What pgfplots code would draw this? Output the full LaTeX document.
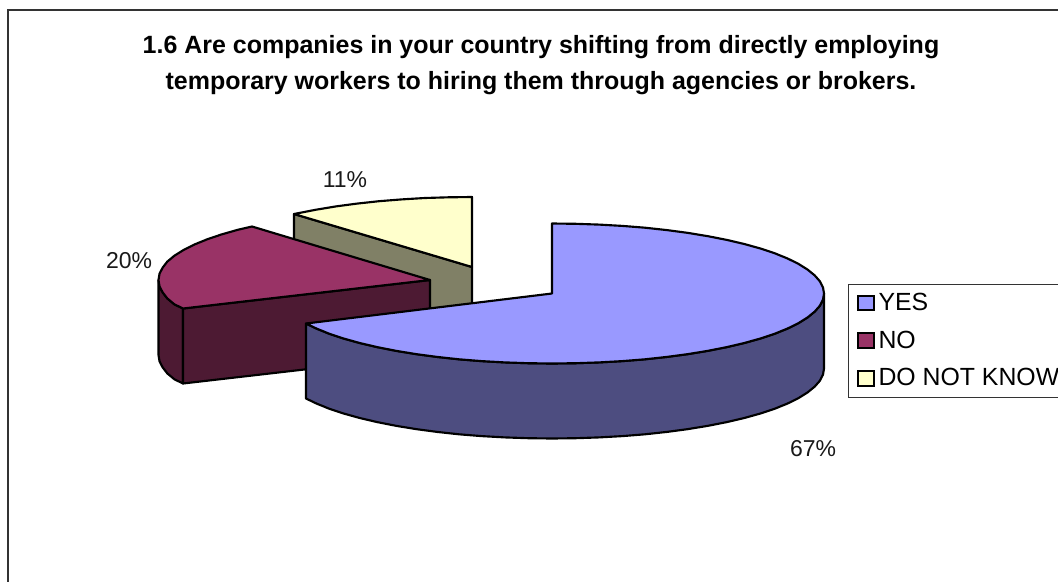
\documentclass[border=0pt]{standalone}
\usepackage{pgfplots}
\pgfplotsset{compat=1.18}
\usepackage{fontspec}
\setmainfont{Liberation Sans}
\definecolor{yesTop}{HTML}{9999FF}
\definecolor{yesSide}{HTML}{4D4D80}
\definecolor{noTop}{HTML}{993366}
\definecolor{noSide}{HTML}{4D1A33}
\definecolor{dnkTop}{HTML}{FFFFCC}
\definecolor{dnkSide}{HTML}{808066}
\definecolor{frameGray}{HTML}{333333}
\pgfplotsset{
  wedge/.style={draw=black, line width=1.6bp, line join=round, forget plot},
  swatch/.style={legend image code/.code={
    \draw[draw=black, line width=1.5bp, fill=#1] (-1.5bp,-5.6bp) rectangle (10bp,5.6bp);}},
}
\begin{document}
\begin{tikzpicture}
\begin{axis}[
  at={(0,0)}, anchor=south west,
  scale only axis, width=793.5bp, height=436.5bp,
  xmin=0, xmax=1058, ymin=0, ymax=582, y dir=reverse,
  hide axis, clip=false,
  legend cell align=left,
  legend style={
    at={(axis cs:848,283.5)}, anchor=north west,
    draw=frameGray, line width=0.75bp,
    font=\fontsize{18.7}{20}\selectfont,
    inner xsep=6.5bp, inner ysep=7bp,
    nodes={inner xsep=3bp, inner ysep=0bp},
    row sep=13.7bp,
  },
]
% Chart area border, open towards the right and bottom edges
\draw[frameGray, line width=1.5bp] (axis cs:8,582) -- (axis cs:8,10) -- (axis cs:1058,10);

% DO NOT KNOW wedge
\addplot[wedge, fill=dnkSide] coordinates {(294,214) (472,267) (472,342) (294,289)} -- cycle;
\addplot[wedge, fill=dnkTop] coordinates {
  (294,214) (316,209.7) (336,206.4) (357,203.6) (379,201.2) (401.6,199.4) (424.8,198)
  (448.3,197.3) (472,197) (472,267)} -- cycle;

% NO wedge
\addplot[wedge, fill=noSide] coordinates {
  (183,308.5) (174.4,304.3) (167.3,298.4) (162.6,292.3) (159.5,286.2) (158.5,280)
  (158.5,355) (159.5,361.2) (162.6,367.3) (167.3,373.4) (174.4,379.3) (183,383.5)} -- cycle;
\addplot[wedge, fill=noSide] coordinates {(183,308.5) (430,280) (430,355) (183,383.5)} -- cycle;
\addplot[wedge, fill=noTop] coordinates {
  (183,308.5) (174.4,304.3) (167.3,298.4) (162.6,292.3) (159.5,286.2) (158.5,280)
  (159.5,273.8) (162.6,267.7) (167.3,261.6) (174.4,255.7) (183.5,250) (194.4,244.5)
  (207.2,239.3) (221.6,234.4) (237.7,229.8) (252,226.5) (430,280)} -- cycle;

% YES wedge
\addplot[wedge, fill=yesSide] coordinates {
  (824,293.5) (823,299.6) (819.9,305.7) (814.7,311.6) (807.6,317.4) (798.5,323.1)
  (787.6,328.5) (774.8,333.7) (760.4,338.5) (744.3,343) (726.8,347.1) (708,350.8)
  (688,354.1) (667,356.9) (645,359.3) (622.4,361.1) (599.2,362.4) (575.7,363.2)
  (552,363.5) (528.3,363.2) (504.8,362.4) (481.6,361.1) (459,359.3) (437,356.9)
  (416,354.1) (396,350.8) (377.2,347.1) (359.7,343) (343.6,338.5) (329.2,333.7)
  (316.4,328.5) (306,323.5)
  (306,398.5) (316.4,403.5) (329.2,408.7) (343.6,413.5) (359.7,418) (377.2,422.1)
  (396,425.8) (416,429.1) (437,431.9) (459,434.3) (481.6,436.1) (504.8,437.4)
  (528.3,438.2) (552,438.5) (575.7,438.2) (599.2,437.4) (622.4,436.1) (645,434.3)
  (667,431.9) (688,429.1) (708,425.8) (726.8,422.1) (744.3,418) (760.4,413.5)
  (774.8,408.7) (787.6,403.5) (798.5,398.1) (807.6,392.4) (814.7,386.6) (819.9,380.7)
  (823,374.6) (824,368.5)} -- cycle;
\addplot[wedge, fill=yesTop] coordinates {
  (552,223.5) (575.7,223.8) (599.2,224.6) (622.4,225.9) (645,227.7) (667,230.1)
  (688,232.9) (708,236.2) (726.8,239.9) (744.3,244) (760.4,248.5) (774.8,253.3)
  (787.6,258.5) (798.5,263.9) (807.6,269.6) (814.7,275.4) (819.9,281.3) (823,287.4)
  (824,293.5) (823,299.6) (819.9,305.7) (814.7,311.6) (807.6,317.4) (798.5,323.1)
  (787.6,328.5) (774.8,333.7) (760.4,338.5) (744.3,343) (726.8,347.1) (708,350.8)
  (688,354.1) (667,356.9) (645,359.3) (622.4,361.1) (599.2,362.4) (575.7,363.2)
  (552,363.5) (528.3,363.2) (504.8,362.4) (481.6,361.1) (459,359.3) (437,356.9)
  (416,354.1) (396,350.8) (377.2,347.1) (359.7,343) (343.6,338.5) (329.2,333.7)
  (316.4,328.5) (306,323.5) (552,293.5)} -- cycle;

% Percentage labels
\node[font=\fontsize{17.3}{20}\selectfont, text=black!90] at (axis cs:345,180) {11\%};
\node[font=\fontsize{17.3}{20}\selectfont, text=black!90] at (axis cs:129,261) {20\%};
\node[font=\fontsize{17.3}{20}\selectfont, text=black!90] at (axis cs:813,449) {67\%};

% Title
\node[font=\bfseries\fontsize{18.8}{27}\selectfont, align=center] at (axis cs:541,65)
  {1.6 Are companies in your country shifting from directly employing\\
   temporary workers to hiring them through agencies or brokers.};

% Legend entries
\addlegendimage{swatch=yesTop}\addlegendentry{YES}
\addlegendimage{swatch=noTop}\addlegendentry{NO}
\addlegendimage{swatch=dnkTop}\addlegendentry{DO NOT KNOW}
\end{axis}
% The page is exactly the chart area; anything past its edge is cut off
\pgfresetboundingbox
\path[use as bounding box] (0,0) rectangle (793.5bp,436.5bp);
\end{tikzpicture}
\end{document}
